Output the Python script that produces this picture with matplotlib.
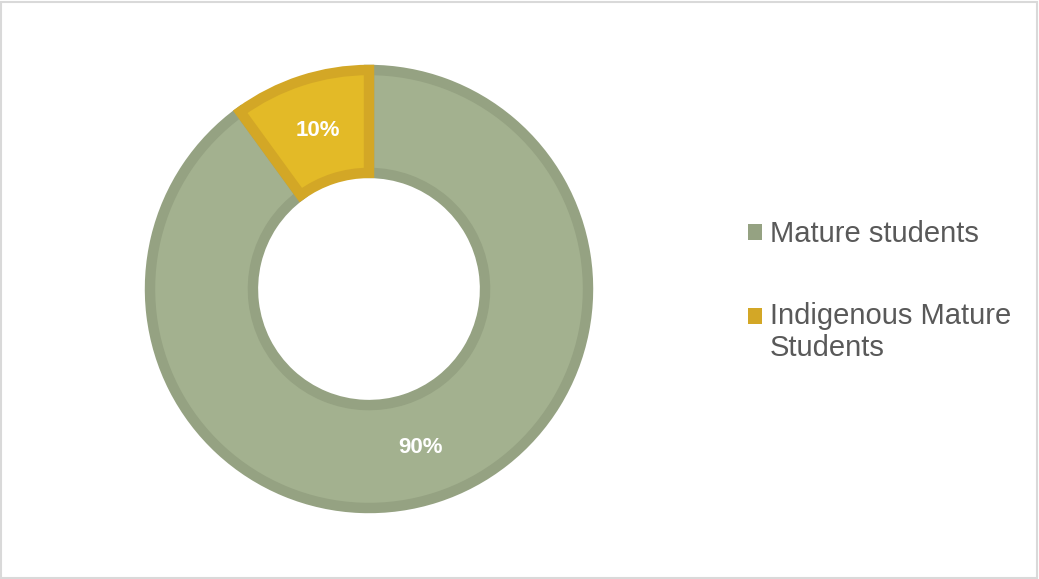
import matplotlib.pyplot as plt
from matplotlib.patches import Rectangle

plt.rcParams['font.family'] = ['Liberation Sans', 'DejaVu Sans']

# Share of mature students
labels = ['Mature students', 'Indigenous Mature\nStudents']
shares = [90, 10]
fill_colors = ['#A3B18F', '#E3BA27']
edge_colors = ['#95A282', '#D3A726']

fig = plt.figure(figsize=(10.39, 5.79), dpi=100)

# square axes centred on the donut (pixel units converted to figure fractions)
W, H = 1039, 579
cx, cy, half = 369, 289, 250
ax = fig.add_axes([(cx - half) / W, (H - cy - half) / H, 2 * half / W, 2 * half / H])

wedges, texts, autotexts = ax.pie(
    shares, startangle=90, counterclock=False, radius=1.0,
    colors=fill_colors, autopct='%1.0f%%', pctdistance=0.76,
    wedgeprops=dict(width=0.47, linewidth=7.5),
    textprops=dict(color='white', fontsize=16, fontweight='bold'))
for w, ec in zip(wedges, edge_colors):
    w.set_edgecolor(ec)

lim = half / 219
ax.set_xlim(-lim, lim)
ax.set_ylim(-lim, lim)
ax.set_aspect('equal')
ax.axis('off')

leg = fig.legend(wedges, labels, loc='upper left', bbox_to_anchor=(748 / W, 1 - 220 / H),
                 frameon=False, fontsize=21, borderpad=0, borderaxespad=0,
                 handlelength=0.48, handleheight=0.48, handletextpad=0.28,
                 labelspacing=1.85, labelcolor='#595959')
for h, ec in zip(leg.legend_handles, edge_colors):
    h.set_facecolor(ec)
    h.set_edgecolor(ec)
    h.set_linewidth(0)

# the two-line entry keeps its marker level with the first line
h2 = leg.legend_handles[1]
h2.set_y(h2.get_y() + 12)

# thin frame around the chart area
fig.patches.append(Rectangle((0.001, 0.001), 0.997, 0.996, transform=fig.transFigure,
                             fill=False, edgecolor='#D9D9D9', linewidth=1.5))

fig.savefig('out.png', dpi=100)
